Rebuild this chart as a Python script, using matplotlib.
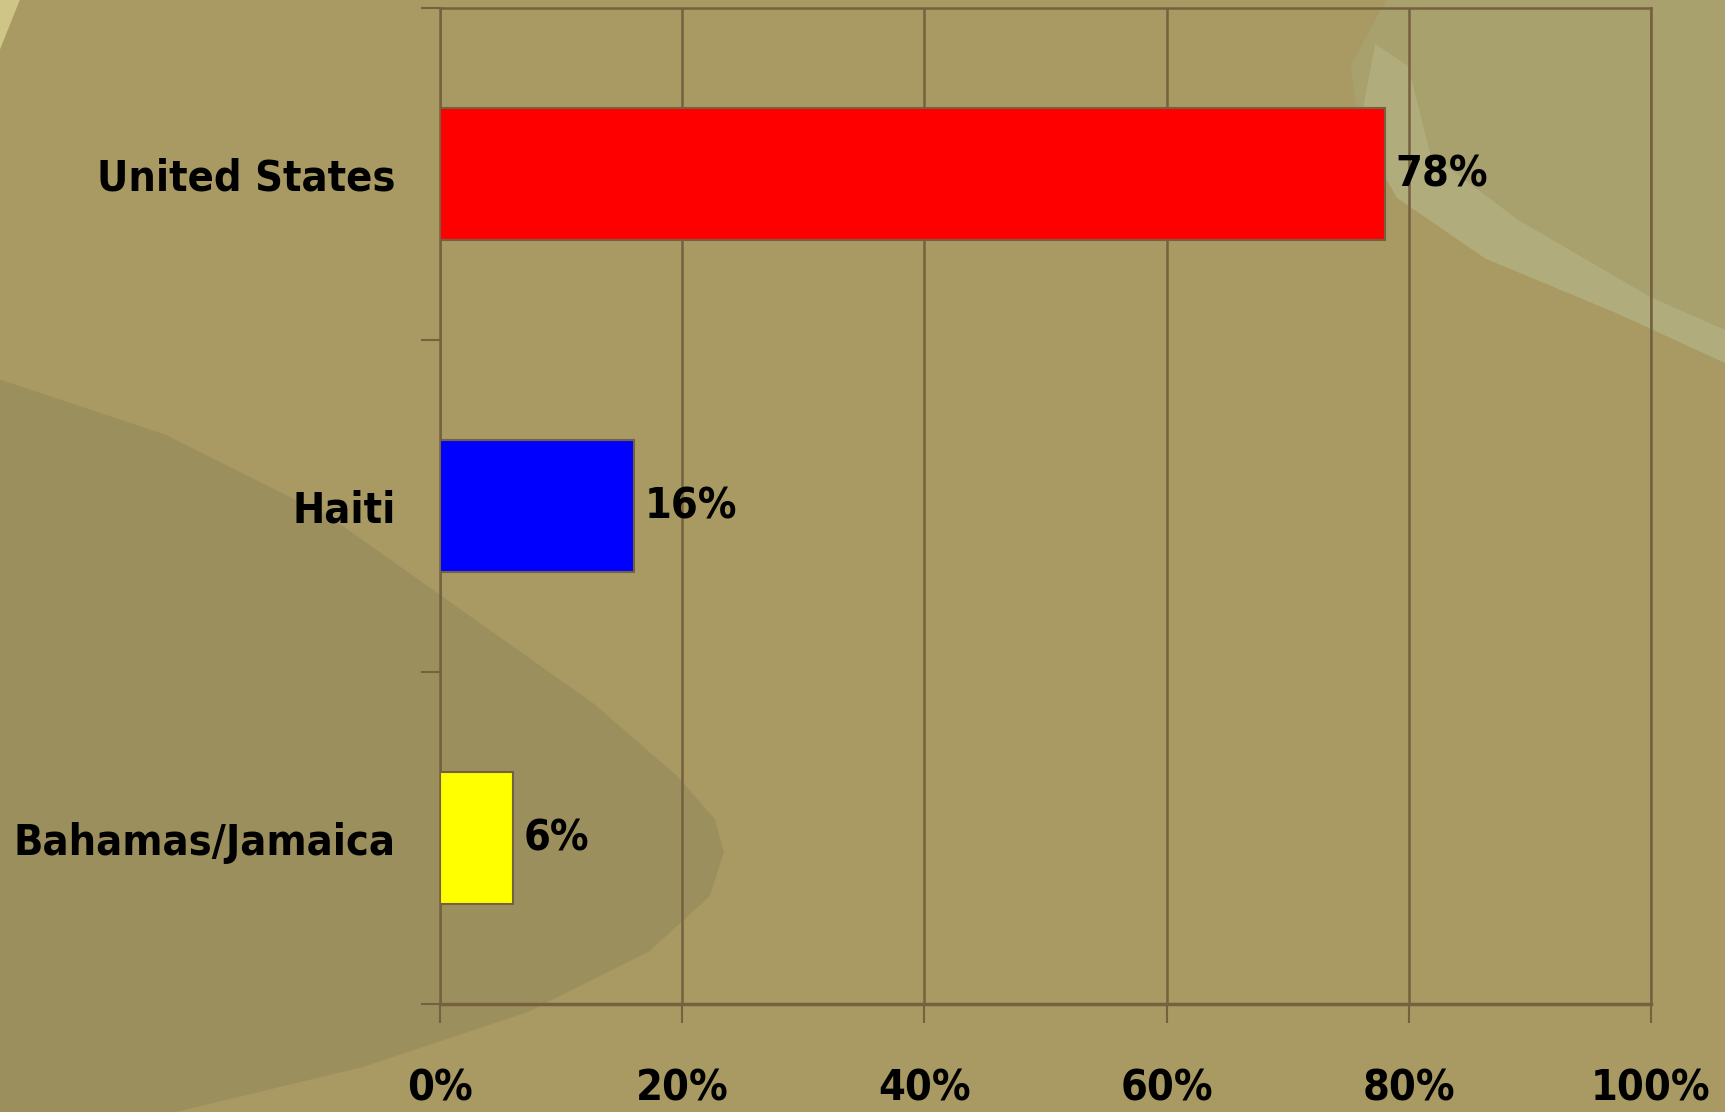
import matplotlib
matplotlib.use("Agg")
import matplotlib.pyplot as plt
from matplotlib.patches import Polygon

# data
countries = ["United States", "Haiti", "Bahamas/Jamaica"]
shares = [78, 16, 6]
bar_colors = ["#FF0000", "#0000FF", "#FFFF00"]
x_ticks = [0, 20, 40, 60, 80, 100]

GRID = "#75613F"
FS = 31

plt.rcParams["font.family"] = ["DejaVu Sans"]
plt.rcParams["font.weight"] = "bold"
plt.rcParams["font.stretch"] = "condensed"

fig = plt.figure(figsize=(17.25, 11.12), dpi=100)
fig.patch.set_facecolor("#A89A62")


def shape(pts):
    # points given in pixels of a 1568x1011 view, top-left origin
    return [[x / 1568, 1 - y / 1011] for x, y in pts]


# rough background shapes: darker leaf lower left, pale swoosh upper right
bg = fig.add_axes([0, 0, 1, 1], zorder=0)
bg.set_xlim(0, 1)
bg.set_ylim(0, 1)
bg.axis("off")
bg.add_patch(Polygon(shape([(0, 345), (150, 395), (300, 470), (420, 555),
                            (540, 640), (615, 705), (650, 745), (658, 775),
                            (645, 815), (590, 865), (480, 920), (330, 970),
                            (160, 1011), (0, 1011)]),
                     facecolor="#8C8058", alpha=0.4, edgecolor="none"))
bg.add_patch(Polygon(shape([(1260, 0), (1228, 60), (1235, 120), (1270, 180),
                            (1350, 235), (1470, 285), (1568, 330),
                            (1568, 0)]),
                     facecolor="#A9A474", alpha=0.7, edgecolor="none"))
bg.add_patch(Polygon(shape([(1235, 120), (1270, 180), (1350, 235),
                            (1470, 285), (1568, 330), (1568, 300),
                            (1500, 270), (1380, 200), (1300, 140),
                            (1280, 60), (1250, 40)]),
                     facecolor="#B8B584", alpha=0.6, edgecolor="none"))
bg.add_patch(Polygon(shape([(0, 0), (18, 0), (0, 45)]),
                     facecolor="#D8D090", alpha=0.8, edgecolor="none"))

ax = fig.add_axes([0.2551, 0.0971, 0.702, 0.8957], zorder=1)
ax.patch.set_alpha(0)

ypos = list(range(len(countries)))
ax.barh(ypos, shares, height=0.4, color=bar_colors,
        edgecolor=GRID, linewidth=1.5, zorder=3)
for y, v in zip(ypos, shares):
    ax.text(v + 0.9, y, f"{v}%", va="center", ha="left",
            fontsize=FS, fontweight="bold", color="black", zorder=4)

ax.set_xlim(0, 100)
ax.set_ylim(2.5, -0.5)
ax.set_xticks(x_ticks)
ax.set_xticklabels([f"{t}%" for t in x_ticks])
ax.set_yticks([-0.5, 0.5, 1.5, 2.5])
ax.set_yticks(ypos, minor=True)
ax.set_yticklabels([], minor=False)
ax.set_yticklabels(countries, minor=True)

ax.xaxis.grid(True, color=GRID, linewidth=1.8, zorder=1)
for s in ["left", "bottom", "right", "top"]:
    ax.spines[s].set_color(GRID)
    ax.spines[s].set_linewidth(1.8)
ax.spines["bottom"].set_linewidth(2.5)

ax.tick_params(axis="x", length=14, width=1.5, color=GRID, pad=32,
               labelsize=FS)
ax.tick_params(axis="y", which="major", length=14, width=1.5, color=GRID)
ax.tick_params(axis="y", which="minor", length=0, pad=32, labelsize=FS)

plt.savefig("out.png", dpi=100, facecolor=fig.get_facecolor())
